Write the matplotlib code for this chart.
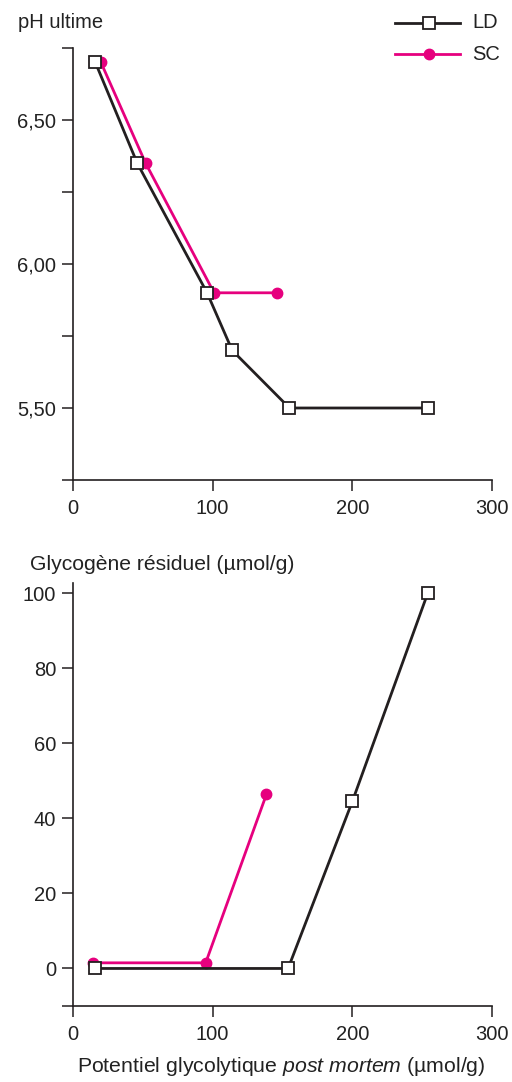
import matplotlib
matplotlib.use("Agg")
import matplotlib.pyplot as plt
from matplotlib.ticker import FuncFormatter

plt.rcParams['font.family'] = ['Liberation Sans', 'DejaVu Sans']
plt.rcParams['mathtext.fontset'] = 'custom'
plt.rcParams['mathtext.rm'] = 'Liberation Sans'
plt.rcParams['mathtext.it'] = 'Liberation Sans:italic'

# Top panel: ultimate pH vs glycolytic potential
ld_ph_x = [16, 46, 96, 114, 155, 254]
ld_ph_y = [6.70, 6.35, 5.90, 5.70, 5.50, 5.50]
sc_ph_x = [20, 52, 101, 146]
sc_ph_y = [6.70, 6.35, 5.90, 5.90]

# Bottom panel: residual glycogen vs glycolytic potential
ld_gly_x = [16, 154, 200, 254]
ld_gly_y = [0, 0, 44.5, 100]
sc_gly_x = [14, 95, 138.5]
sc_gly_y = [1.5, 1.5, 46.4]

x_ticks = [0, 100, 200, 300]
ph_major = [5.50, 6.00, 6.50]
ph_minor = [5.25, 5.75, 6.25, 6.75]
gly_major = [0, 20, 40, 60, 80, 100]

BLACK = '#231F20'
PINK = '#E6007E'
FS = 14.5

W, H = 512, 1082
fig = plt.figure(figsize=(W / 100, H / 100), dpi=100)

def style(ax):
    for s in ('top', 'right'):
        ax.spines[s].set_visible(False)
    for s in ('left', 'bottom'):
        ax.spines[s].set_linewidth(1.2)
        ax.spines[s].set_color(BLACK)
    ax.tick_params(which='both', direction='out', length=8, width=1.1,
                   colors=BLACK, labelsize=FS, labelcolor='#222222')
    ax.tick_params(axis='y', which='both', pad=4)
    ax.tick_params(axis='x', which='both', pad=6)
    ax.set_xlim(0, 300)
    ax.set_xticks(x_ticks)
    ax.patch.set_visible(False)

l, r = 73 / W, 492 / W
ax1 = fig.add_axes([l, 1 - 480 / H, r - l, (480 - 48) / H])
style(ax1)
ax1.set_ylim(5.25, 6.75)
ax1.set_yticks(ph_major)
ax1.set_yticks(ph_minor, minor=True)
ax1.yaxis.set_major_formatter(FuncFormatter(lambda v, p: f"{v:.2f}".replace('.', ',')))

lmk = dict(marker='s', markersize=8, markerfacecolor='white', markeredgecolor=BLACK,
           markeredgewidth=1.3, color=BLACK, lw=2.0)
smk = dict(marker='o', markersize=7.5, markerfacecolor=PINK, markeredgecolor=PINK,
           color=PINK, lw=2.0)

ax1.plot(sc_ph_x, sc_ph_y, clip_on=False, zorder=3, **smk)
ax1.plot(ld_ph_x, ld_ph_y, clip_on=False, zorder=4, **lmk)

ax2 = fig.add_axes([l, 1 - 1006 / H, r - l, (1006 - 583) / H])
style(ax2)
ax2.set_ylim(-10, 102.7)
ax2.set_yticks(gly_major)
ax2.set_yticks([-10], minor=True)
ax2.plot(sc_gly_x, sc_gly_y, clip_on=False, zorder=3, **smk)
ax2.plot(ld_gly_x, ld_gly_y, clip_on=False, zorder=4, **lmk)

fig.text(18 / W, 1 - 22 / H, 'pH ultime', fontsize=FS, color='#222222', va='center', ha='left')
fig.text(30 / W, 1 - 564 / H, 'Glycogène résiduel (µmol/g)', fontsize=15.2, color='#222222',
         va='center', ha='left')
fig.text(281 / W, 1 - 1066 / H,
         'Potentiel glycolytique $\\it{post\\ mortem}$ (µmol/g)', fontsize=15.3,
         color='#222222', va='center', ha='center')

# Legend (manual, figure coords)
lx0, lx1, lxm = 395, 460, 429
for yy, kw, lab in [(23, lmk, 'LD'), (54, smk, 'SC')]:
    fig.add_artist(plt.Line2D([lx0 / W, lx1 / W], [1 - yy / H, 1 - yy / H],
                              transform=fig.transFigure, color=kw['color'], lw=kw['lw']))
    fig.add_artist(plt.Line2D([lxm / W], [1 - yy / H], transform=fig.transFigure,
                              linestyle='none', **{k: v for k, v in kw.items() if k != 'lw'}))
    fig.text(472 / W, 1 - yy / H, lab, fontsize=FS, color='#222222', va='center', ha='left')

fig.savefig('out.png', dpi=100)
